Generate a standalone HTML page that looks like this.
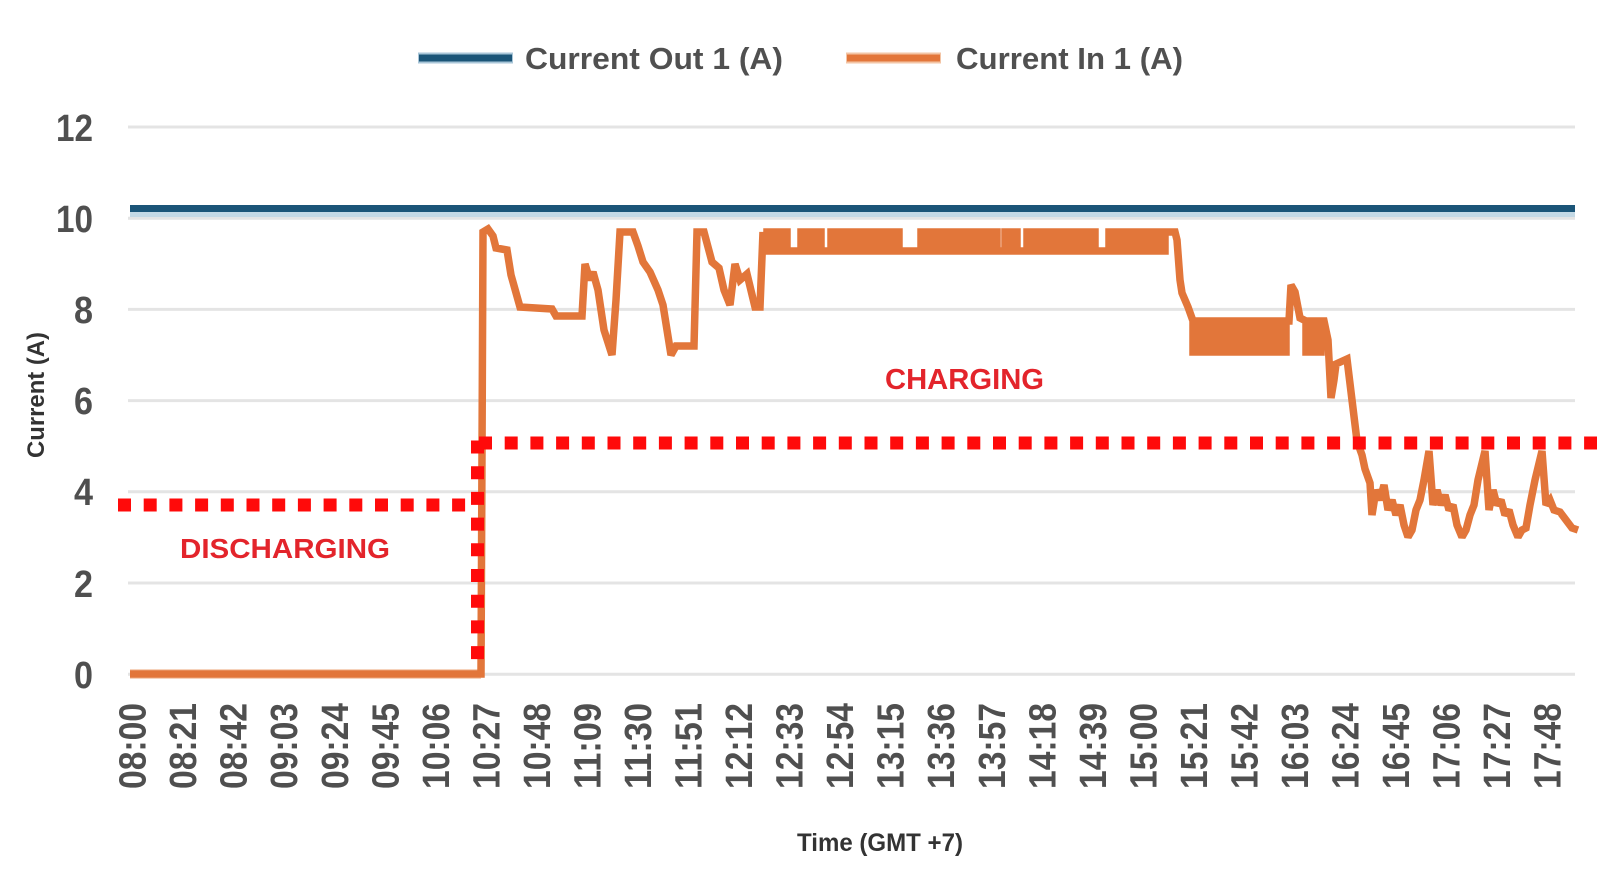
<!DOCTYPE html>
<html><head><meta charset="utf-8"><style>
html,body{margin:0;padding:0;background:#fff;}
svg{display:block;}
</style></head><body>
<svg width="1605" height="883" viewBox="0 0 1605 883" xmlns="http://www.w3.org/2000/svg" font-family="'Liberation Sans', sans-serif">
<rect width="1605" height="883" fill="#fff"/>
<!-- gridlines -->
<g stroke="#e4e4e4" stroke-width="3">
<line x1="128" y1="127" x2="1575" y2="127"/>
<line x1="128" y1="218.2" x2="1575" y2="218.2"/>
<line x1="128" y1="309.4" x2="1575" y2="309.4"/>
<line x1="128" y1="400.6" x2="1575" y2="400.6"/>
<line x1="128" y1="491.8" x2="1575" y2="491.8"/>
<line x1="128" y1="583" x2="1575" y2="583"/>
<line x1="128" y1="674.2" x2="1575" y2="674.2"/>
</g>
<!-- y tick labels -->
<g fill="#4f4f4f" font-weight="bold" font-size="38" text-anchor="end">
<text x="93" y="141" textLength="37" lengthAdjust="spacingAndGlyphs">12</text>
<text x="93" y="232" textLength="37" lengthAdjust="spacingAndGlyphs">10</text>
<text x="93" y="323" textLength="19" lengthAdjust="spacingAndGlyphs">8</text>
<text x="93" y="414" textLength="19" lengthAdjust="spacingAndGlyphs">6</text>
<text x="93" y="505" textLength="19" lengthAdjust="spacingAndGlyphs">4</text>
<text x="93" y="597" textLength="19" lengthAdjust="spacingAndGlyphs">2</text>
<text x="93" y="688" textLength="19" lengthAdjust="spacingAndGlyphs">0</text>
</g>
<!-- y axis title -->
<text transform="translate(44,395) rotate(-90)" text-anchor="middle" font-size="24" font-weight="bold" fill="#333" textLength="126" lengthAdjust="spacingAndGlyphs">Current (A)</text>
<!-- x tick labels -->
<g fill="#4f4f4f" font-weight="bold" font-size="38">
<text transform="translate(145.6,789) rotate(-90)" textLength="86" lengthAdjust="spacingAndGlyphs">08:00</text>
<text transform="translate(196.1,789) rotate(-90)" textLength="86" lengthAdjust="spacingAndGlyphs">08:21</text>
<text transform="translate(246.7,789) rotate(-90)" textLength="86" lengthAdjust="spacingAndGlyphs">08:42</text>
<text transform="translate(297.2,789) rotate(-90)" textLength="86" lengthAdjust="spacingAndGlyphs">09:03</text>
<text transform="translate(347.8,789) rotate(-90)" textLength="86" lengthAdjust="spacingAndGlyphs">09:24</text>
<text transform="translate(398.3,789) rotate(-90)" textLength="86" lengthAdjust="spacingAndGlyphs">09:45</text>
<text transform="translate(448.8,789) rotate(-90)" textLength="86" lengthAdjust="spacingAndGlyphs">10:06</text>
<text transform="translate(499.4,789) rotate(-90)" textLength="86" lengthAdjust="spacingAndGlyphs">10:27</text>
<text transform="translate(549.9,789) rotate(-90)" textLength="86" lengthAdjust="spacingAndGlyphs">10:48</text>
<text transform="translate(600.5,789) rotate(-90)" textLength="86" lengthAdjust="spacingAndGlyphs">11:09</text>
<text transform="translate(651.0,789) rotate(-90)" textLength="86" lengthAdjust="spacingAndGlyphs">11:30</text>
<text transform="translate(701.5,789) rotate(-90)" textLength="86" lengthAdjust="spacingAndGlyphs">11:51</text>
<text transform="translate(752.1,789) rotate(-90)" textLength="86" lengthAdjust="spacingAndGlyphs">12:12</text>
<text transform="translate(802.6,789) rotate(-90)" textLength="86" lengthAdjust="spacingAndGlyphs">12:33</text>
<text transform="translate(853.2,789) rotate(-90)" textLength="86" lengthAdjust="spacingAndGlyphs">12:54</text>
<text transform="translate(903.7,789) rotate(-90)" textLength="86" lengthAdjust="spacingAndGlyphs">13:15</text>
<text transform="translate(954.2,789) rotate(-90)" textLength="86" lengthAdjust="spacingAndGlyphs">13:36</text>
<text transform="translate(1004.8,789) rotate(-90)" textLength="86" lengthAdjust="spacingAndGlyphs">13:57</text>
<text transform="translate(1055.3,789) rotate(-90)" textLength="86" lengthAdjust="spacingAndGlyphs">14:18</text>
<text transform="translate(1105.9,789) rotate(-90)" textLength="86" lengthAdjust="spacingAndGlyphs">14:39</text>
<text transform="translate(1156.4,789) rotate(-90)" textLength="86" lengthAdjust="spacingAndGlyphs">15:00</text>
<text transform="translate(1206.9,789) rotate(-90)" textLength="86" lengthAdjust="spacingAndGlyphs">15:21</text>
<text transform="translate(1257.5,789) rotate(-90)" textLength="86" lengthAdjust="spacingAndGlyphs">15:42</text>
<text transform="translate(1308.0,789) rotate(-90)" textLength="86" lengthAdjust="spacingAndGlyphs">16:03</text>
<text transform="translate(1358.6,789) rotate(-90)" textLength="86" lengthAdjust="spacingAndGlyphs">16:24</text>
<text transform="translate(1409.1,789) rotate(-90)" textLength="86" lengthAdjust="spacingAndGlyphs">16:45</text>
<text transform="translate(1459.6,789) rotate(-90)" textLength="86" lengthAdjust="spacingAndGlyphs">17:06</text>
<text transform="translate(1510.2,789) rotate(-90)" textLength="86" lengthAdjust="spacingAndGlyphs">17:27</text>
<text transform="translate(1560.7,789) rotate(-90)" textLength="86" lengthAdjust="spacingAndGlyphs">17:48</text>
</g>
<!-- x axis title -->
<text x="880" y="851" text-anchor="middle" font-size="25" font-weight="bold" fill="#333" textLength="166" lengthAdjust="spacingAndGlyphs">Time (GMT +7)</text>
<!-- legend -->
<line x1="418" y1="58" x2="513" y2="58" stroke="#a9c6d8" stroke-width="11"/>
<line x1="419" y1="58" x2="512" y2="58" stroke="#1b5578" stroke-width="7"/>
<text x="525" y="69" font-size="31" font-weight="bold" fill="#505050" textLength="258" lengthAdjust="spacingAndGlyphs">Current Out 1 (A)</text>
<line x1="846" y1="58" x2="941" y2="58" stroke="#f3c5a6" stroke-width="11"/>
<line x1="847" y1="58" x2="940" y2="58" stroke="#e3763a" stroke-width="7"/>
<text x="956" y="69" font-size="31" font-weight="bold" fill="#505050" textLength="227" lengthAdjust="spacingAndGlyphs">Current In 1 (A)</text>
<!-- blue series -->
<line x1="130" y1="211" x2="1575" y2="211" stroke="#c4d9e5" stroke-width="12"/>
<line x1="130" y1="208.5" x2="1575" y2="208.5" stroke="#1b5578" stroke-width="7"/>
<!-- orange series -->
<path fill="none" stroke="#f6d2bb" stroke-width="10" stroke-linejoin="round" d="M130,674 L481,674"/>
<path fill="none" stroke="#e2763a" stroke-width="7.5" stroke-linejoin="miter" stroke-miterlimit="2" d="M130,674 L481,674 L483,232 L488,229 L493,236 L496,248 L507,250 L511,275 L520,307 L552,309 L556,316 L582,316 L585,264 L590,280 L593,272 L598,290 L604,330 L612,355 L616,300 L620,232 L633,232 L638,246 L643,262 L650,272 L658,290 L663,305 L671,355 L676,346 L694,346 L697,232 L704,232 L712,262 L719,268 L724,290 L730,305 L735,264 L740,280 L747,274 L755,307 L760,307 L763,232
v19h4v-19h4 v19h4v-19h4 v19h4v-19h4
v19h14v-19h4
v19h4v-19h4 v19h4v-19h4
v19h10v-19h4
v19h4v-19h4 v19h4v-19h4 v19h4v-19h4 v19h4v-19h4 v19h4v-19h4 v19h4v-19h4 v19h4v-19h4 v19h4v-19h4
v19h22v-19h4
v19h4v-19h4 v19h4v-19h4 v19h4v-19h4 v19h4v-19h4 v19h4v-19h4 v19h4v-19h4 v19h4v-19h4 v19h4v-19h4 v19h4v-19h4
v19h8v-19h4
v19h4v-19h4
v19h10v-19h4
v19h4v-19h4 v19h4v-19h4 v19h4v-19h4 v19h4v-19h4 v19h4v-19h4 v19h4v-19h4 v19h4v-19h4 v19h4v-19h4
v19h14v-19h4
v19h4v-19h4 v19h4v-19h4 v19h4v-19h4 v19h4v-19h4 v19h4v-19h4 v19h4v-19h4 v19h4v-19h4
h6
L1177,240 L1180,280 L1182,293 L1188,307 L1193,321
v31h3v-31h3 v31h3v-31h3 v31h3v-31h3 v31h3v-31h3 v31h3v-31h3 v31h3v-31h3 v31h3v-31h3 v31h3v-31h3
v31h3v-31h3 v31h3v-31h3 v31h3v-31h3 v31h3v-31h3 v31h3v-31h3 v31h3v-31h3 v31h3v-31h3 v31h3v-31h3
L1291,285 L1295,292 L1300,318 L1306,321
v31h3v-31h3 v31h3v-31h3 v31h3v-31h3
L1328,340 L1331,398 L1334,380 L1336,364 L1347,359 L1352,400 L1357,441 L1362,455 L1365,469 L1370,483 L1372,515
L1376,490 L1380,500 L1384,485 L1388,510 L1392,500 L1396,515 L1400,505 L1404,525 L1408,537 L1412,530 L1416,510 L1420,500 L1424,480 L1429,451 L1433,505 L1437,490 L1441,505 L1445,495 L1449,510 L1453,505 L1457,525 L1462,537 L1466,530 L1470,515 L1474,505 L1478,480 L1485,451 L1489,510 L1493,490 L1497,505 L1501,500 L1505,515 L1509,510 L1513,525 L1518,537 L1522,530 L1526,528 L1530,505 L1535,480 L1542,451 L1546,505 L1550,500 L1554,510 L1560,512 L1566,520 L1572,528 L1578,530"/>
<!-- red dotted annotation lines -->
<g stroke="#ff0a0a" stroke-width="13" fill="none">
<line x1="118" y1="505" x2="467" y2="505" stroke-dasharray="13 12.7"/>
<line x1="477.5" y1="440.5" x2="477.5" y2="660" stroke-dasharray="13 12.7"/>
<line x1="479" y1="443" x2="1597" y2="443" stroke-dasharray="13 12.7"/>
</g>
<!-- annotations -->
<text x="180" y="558" font-size="28" font-weight="bold" fill="#e3242b" textLength="210" lengthAdjust="spacingAndGlyphs">DISCHARGING</text>
<text x="885" y="389" font-size="29" font-weight="bold" fill="#e3242b" textLength="159" lengthAdjust="spacingAndGlyphs">CHARGING</text>
</svg>
</body></html>
